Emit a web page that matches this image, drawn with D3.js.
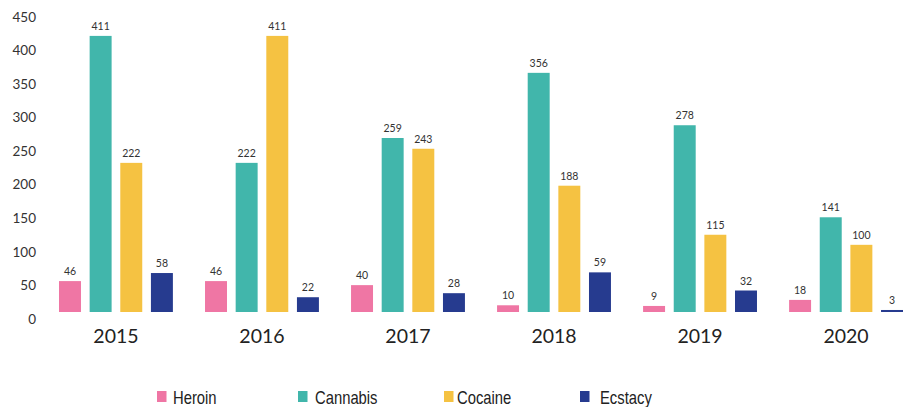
<!DOCTYPE html>
<html>
<head>
<meta charset="utf-8">
<script src="https://cdn.jsdelivr.net/npm/d3@7/dist/d3.min.js"></script>
<style>
  html, body { margin: 0; padding: 0; background: #fff; }
  svg { display: block; }
</style>
</head>
<body>
<svg id="chart" width="908" height="407"></svg>
<script>
// Seizure counts per year and drug
const years    = ["2015", "2016", "2017", "2018", "2019", "2020"];
const drugs    = ["Heroin", "Cannabis", "Cocaine", "Ecstacy"];
const heroin   = [46, 46, 40, 10, 9, 18];
const cannabis = [411, 222, 259, 356, 278, 141];
const cocaine  = [222, 411, 243, 188, 115, 100];
const ecstacy  = [58, 22, 28, 59, 32, 3];
const yTicks   = [0, 50, 100, 150, 200, 250, 300, 350, 400, 450];

const series = [heroin, cannabis, cocaine, ecstacy];
const colors = ["#ef76a4", "#41b6ab", "#f5c242", "#263b8f"];

const svg = d3.select("#chart");

const x0 = d3.scaleBand().domain(years).range([59, 903]).paddingInner(0.22).paddingOuter(0);
const x1 = d3.scaleBand().domain(drugs).range([0, x0.bandwidth()]).paddingInner(0.283).paddingOuter(0);
const y  = d3.scaleLinear().domain([0, 450]).range([312, 9.7]);
const color = d3.scaleOrdinal().domain(drugs).range(colors);

// Y axis: labels only, no line or ticks
const yAxis = d3.axisLeft(y).tickValues(yTicks).tickSize(0).tickPadding(0);
const gy = svg.append("g").attr("transform", "translate(36,7)").call(yAxis);
gy.select(".domain").remove();
gy.selectAll("text")
  .attr("font-family", "Lato, 'Open Sans', sans-serif")
  .attr("font-size", 13.5)
  .attr("fill", "#333");

// X axis: year labels under each group
const xAxis = d3.axisBottom(x0).tickSize(0).tickPadding(0);
const gx = svg.append("g").attr("transform", "translate(0,326)").call(xAxis);
gx.select(".domain").remove();
gx.selectAll("text")
  .attr("dy", "0.85em")
  .attr("font-family", "Lato, 'Open Sans', sans-serif")
  .attr("font-size", 19.5)
  .attr("fill", "#222");

// Grouped bars
const rows = years.map((yr, i) => ({ year: yr, values: drugs.map((d, j) => ({ drug: d, value: series[j][i] })) }));

const groups = svg.append("g").selectAll("g")
  .data(rows).join("g")
  .attr("transform", d => `translate(${x0(d.year)},0)`);

groups.selectAll("rect")
  .data(d => d.values).join("rect")
  .attr("x", d => x1(d.drug))
  .attr("y", d => y(d.value))
  .attr("width", x1.bandwidth())
  .attr("height", d => y(0) - y(d.value))
  .attr("fill", d => color(d.drug));

groups.selectAll("text")
  .data(d => d.values).join("text")
  .attr("x", d => x1(d.drug) + x1.bandwidth() / 2)
  .attr("y", d => y(d.value) - 6)
  .attr("text-anchor", "middle")
  .attr("font-family", "Lato, 'Open Sans', sans-serif")
  .attr("font-size", 10.5)
  .attr("fill", "#333")
  .text(d => d.value);

// Legend (condensed label text)
const legendX = [157, 298, 444, 580];
const legendTextGap = [16, 17, 13, 20];
const legend = svg.append("g").selectAll("g")
  .data(drugs).join("g")
  .attr("transform", (d, i) => `translate(${legendX[i]},391)`);
legend.append("rect")
  .attr("width", 9.5).attr("height", 11)
  .attr("fill", d => color(d));
legend.append("text")
  .attr("transform", (d, i) => `translate(${legendTextGap[i]},12.5) scale(0.8,1)`)
  .attr("font-family", "'Liberation Sans', Arial, sans-serif")
  .attr("font-size", 18.5)
  .attr("fill", "#222")
  .text(d => d);
</script>
</body>
</html>
